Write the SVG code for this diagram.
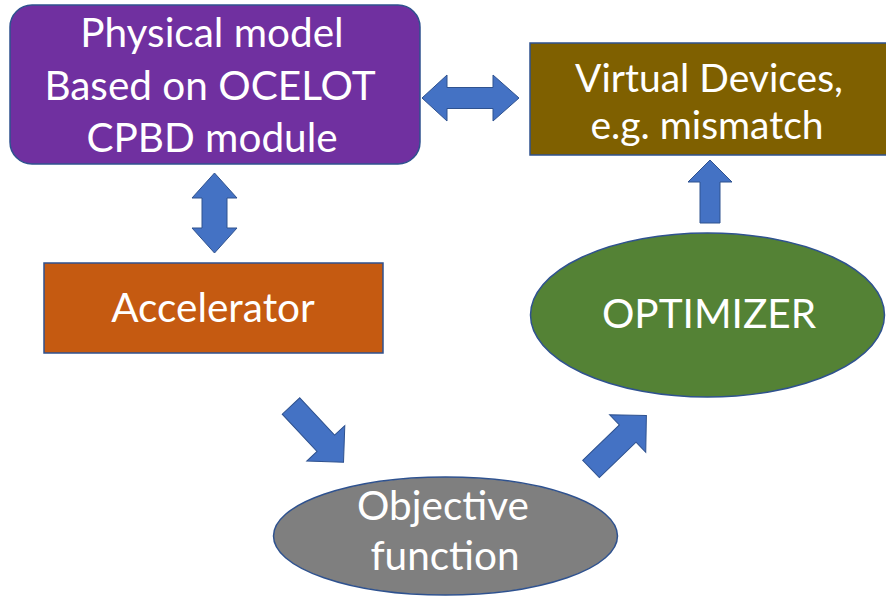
<svg xmlns="http://www.w3.org/2000/svg" width="886" height="597" viewBox="0 0 886 597">
<defs>
<style>
.lbl{font-family:Lato,"Liberation Sans",sans-serif;fill:#ffffff;text-anchor:middle;font-size:40.5px}
.box{stroke:#2F528F;stroke-width:1.5}
.arr{fill:#4472C4;stroke:#2F528F;stroke-width:1}
</style>
<polygon id="diag" points="0,-12 51,-12 51,-26 77,0 51,26 51,12 0,12"/>
</defs>
<rect width="886" height="597" fill="#ffffff"/>
<g id="physical-model">
<rect class="box" x="10" y="5" width="410" height="159" rx="22" fill="#7030A0"/>
<text class="lbl" x="212" y="47">Physical model</text>
<text class="lbl" x="210" y="100">Based on OCELOT</text>
<text class="lbl" x="212" y="152">CPBD module</text>
</g>
<g id="virtual-devices">
<rect class="box" x="530" y="43" width="360" height="112" fill="#7F6000"/>
<text class="lbl" x="709" y="92" style="font-size:39px">Virtual Devices,</text>
<text class="lbl" x="707" y="139" style="font-size:39px">e.g. mismatch</text>
</g>
<g id="accelerator">
<rect class="box" x="44" y="263" width="339" height="90" fill="#C55A11"/>
<text class="lbl" x="213" y="322">Accelerator</text>
</g>
<g id="optimizer">
<ellipse class="box" cx="707.5" cy="315" rx="177" ry="82" fill="#548235"/>
<text class="lbl" x="709" y="328">OPTIMIZER</text>
</g>
<g id="objective-function">
<ellipse class="box" cx="445.5" cy="536" rx="172" ry="59" fill="#7F7F7F"/>
<text class="lbl" x="443" y="520">Objective</text>
<text class="lbl" x="445" y="570">function</text>
</g>
<g id="connectors">
<polygon class="arr" points="214.5,173 237,198 227,198 227,228 237,228 214.5,253 192,228 202,228 202,198 192,198"/>
<polygon class="arr" points="422,98 447,75 447,87.5 493,87.5 493,75 519,98 493,121 493,108.5 447,108.5 447,121"/>
<polygon class="arr" points="710,160 732,182 720,182 720,223 700,223 700,182 688,182"/>
<use href="#diag" class="arr" transform="translate(291,406) rotate(47)"/>
<use href="#diag" class="arr" transform="translate(591,469) rotate(-44)"/>
</g>
</svg>
